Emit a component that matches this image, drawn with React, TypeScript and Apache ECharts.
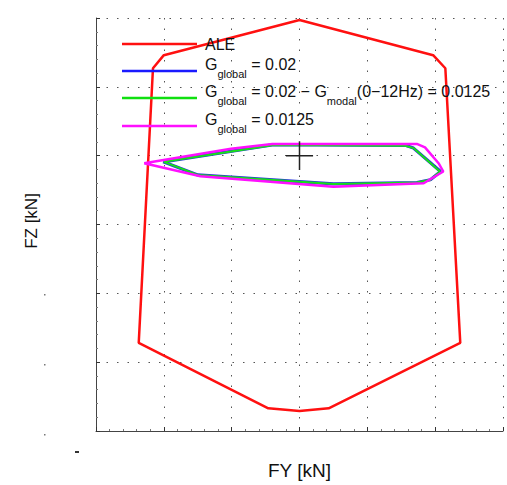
import React, { useEffect, useRef } from "react";
import * as echarts from "echarts";

// ALE envelope (FY, FZ) in grid units
const aleFY = [0, 1.97, 2.15, 2.37, 0.43, 0, -0.46, -2.37, -2.16, -2.0, 0];
const aleFZ = [1.97, 1.46, 1.27, -2.72, -3.67, -3.71, -3.67, -2.72, 1.27, 1.46, 1.97];

// G_global = 0.02
const blueFY = [-2.01, -0.38, 1.56, 1.68, 2.08, 1.93, 1.73, 0.5, -1.5, -2.01];
const blueFZ = [-0.09, 0.16, 0.15, 0.11, -0.23, -0.35, -0.39, -0.41, -0.28, -0.09];

// G_global = 0.02 - G_modal(0-12Hz) = 0.0125
const greenFY = [-2.0, -0.38, 1.56, 1.68, 2.07, 1.93, 1.73, 0.5, -1.5, -2.0];
const greenFZ = [-0.09, 0.155, 0.145, 0.11, -0.23, -0.35, -0.39, -0.41, -0.28, -0.09];

// G_global = 0.0125
const magentaFY = [-2.29, -1.01, -0.4, 1.73, 1.85, 2.05, 2.12, 1.83, 0.5, -1.46, -2.29];
const magentaFZ = [-0.11, 0.1, 0.17, 0.17, 0.12, -0.11, -0.23, -0.4, -0.45, -0.3, -0.11];

// centre cross
const crossFY = [-0.2, 0.2, NaN, 0, 0];
const crossFZ = [0, 0, NaN, 0.21, -0.21];

const seriesNames = [
  "ALE",
  "G_global = 0.02",
  "G_global = 0.02 − G_modal(0−12Hz) = 0.0125",
  "G_global = 0.0125",
];
const legendRich: Record<string, string> = {
  [seriesNames[0]]: "{a|ALE}",
  [seriesNames[1]]: "{g0|G}{s|global}{g| = 0.02}",
  [seriesNames[2]]: "{g0|G}{s|global}{g| = 0.02 − G}{s|modal}{g|(0−12Hz) = 0.0125}",
  [seriesNames[3]]: "{g0|G}{s|global}{g| = 0.0125}",
};
const legendTops = [36, 56, 83, 111];

const xMin = -3, xMax = 3, yMin = -4, yMax = 2;

const pair = (xs: number[], ys: number[]) =>
  xs.map((x, i) => (isNaN(x) ? ["-", "-"] : [x, ys[i]]));

const FONT = "Liberation Sans, Arial, sans-serif";

export default function App() {
  const ref = useRef<HTMLDivElement>(null);
  useEffect(() => {
    if (!ref.current) return;
    const chart = echarts.init(ref.current, undefined, { renderer: "svg" });
    const dotted = { color: "#555", width: 1, type: [1.5, 9] as any };
    const axisCommon = {
      type: "value" as const,
      interval: 1,
      axisLine: { show: true, onZero: false, lineStyle: { color: "#444", width: 1 } },
      axisTick: { show: true, inside: true, length: 4, lineStyle: { color: "#333" } },
      minorTick: { show: true, splitNumber: 5, length: 2, lineStyle: { color: "#777" } },
      axisLabel: { show: false },
      splitLine: { show: true, lineStyle: dotted },
      nameLocation: "middle" as const,
    };
    const rich = {
      a: { fontSize: 16, color: "#111", padding: [0, 0, 0, 3] },
      g0: { fontSize: 16, lineHeight: 30, verticalAlign: "top", color: "#111", padding: [0, 0, 0, 3] },
      g: { fontSize: 16, lineHeight: 30, verticalAlign: "top", color: "#111" },
      s: { fontSize: 11, lineHeight: 30, verticalAlign: "top", padding: [12, 0, 0, 0], color: "#111" },
    };
    chart.setOption({
      animation: false,
      backgroundColor: "#fff",
      textStyle: { fontFamily: FONT },
      grid: { left: 96, top: 18, right: 4, bottom: 54, containLabel: false, outerBoundsMode: "none" },
      xAxis: {
        ...axisCommon,
        min: xMin,
        max: xMax,
        name: "FY [kN]",
        nameGap: 30,
        nameTextStyle: { fontSize: 19, color: "#111", fontFamily: FONT },
      },
      yAxis: {
        ...axisCommon,
        min: yMin,
        max: yMax,
        name: "FZ [kN]",
        nameGap: 56,
        nameTextStyle: { fontSize: 17, color: "#111", fontFamily: FONT, padding: [0, 0, 0, 7] },
      },
      legend: seriesNames.map((n, i) => ({
        data: [n],
        orient: "vertical",
        left: 122,
        top: legendTops[i],
        padding: 0,
        itemWidth: 75,
        itemHeight: 2.5,
        icon: "rect",
        selectedMode: false,
        formatter: (nm: string) => legendRich[nm] || nm,
        textStyle: { color: "#111", fontFamily: FONT, rich },
      })),
      series: [
        {
          name: seriesNames[0],
          type: "line",
          data: pair(aleFY, aleFZ),
          symbol: "none",
          color: "#ff1010",
          lineStyle: { width: 2.5, color: "#ff1010" },
        },
        {
          name: seriesNames[1],
          type: "line",
          data: pair(blueFY, blueFZ),
          symbol: "none",
          color: "#1a1aff",
          lineStyle: { width: 3.2, color: "#2a3ad8" },
        },
        {
          name: seriesNames[2],
          type: "line",
          data: pair(greenFY, greenFZ),
          symbol: "none",
          color: "#10e010",
          lineStyle: { width: 2, color: "#18e018" },
        },
        {
          name: seriesNames[3],
          type: "line",
          data: pair(magentaFY, magentaFZ),
          symbol: "none",
          color: "#ff10ff",
          lineStyle: { width: 2.5, color: "#ff10ff" },
        },
        {
          name: "centre",
          type: "line",
          data: pair(crossFY, crossFZ),
          symbol: "none",
          connectNulls: false,
          color: "#222",
          lineStyle: { width: 1.5, color: "#222" },
        },
      ],
      graphic: [
        { type: "rect", shape: { x: 44, y: 294, width: 1.5, height: 1.5 }, style: { fill: "#777" } },
        { type: "rect", shape: { x: 44, y: 364, width: 1.5, height: 1.5 }, style: { fill: "#777" } },
        { type: "rect", shape: { x: 44, y: 434, width: 1.5, height: 1.5 }, style: { fill: "#777" } },
        { type: "rect", shape: { x: 75, y: 451, width: 4, height: 2 }, style: { fill: "#333" } },
      ],
    });
    return () => chart.dispose();
  }, []);
  return (
    <div
      ref={ref}
      style={{ position: "fixed", left: 0, top: 0, width: 507, height: 485, background: "#fff" }}
    />
  );
}
